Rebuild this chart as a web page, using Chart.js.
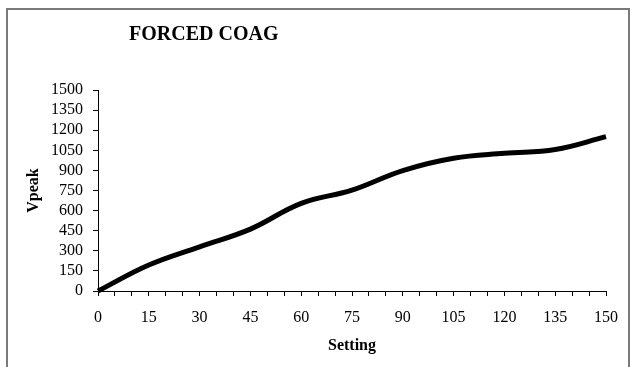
<!DOCTYPE html>
<html>
<head>
<meta charset="utf-8">
<script src="https://cdn.jsdelivr.net/npm/chart.js@4.4.1/dist/chart.umd.min.js"></script>
<style>
  html, body { margin: 0; padding: 0; background: #ffffff; }
  #wrap { position: relative; width: 632px; height: 367px; }
</style>
</head>
<body>
<div id="wrap"><canvas id="chart" width="632" height="367"></canvas></div>
<script>
// Generator setting vs. peak voltage
const chartTitle = 'FORCED COAG';
const xTitle = 'Setting';
const yTitle = 'Vpeak';
const settings = [0, 15, 30, 45, 60, 75, 90, 105, 120, 135, 150];
const vpeak = [0, 194, 330, 462, 654, 753, 899, 991, 1028, 1056, 1152];
const xTickStep = 5;
const xLabelStep = 15;
const yTickStep = 150;

const serif = '"Liberation Serif", "Times New Roman", serif';

// Outer frame (no bottom edge) and the chart heading
const framePlugin = {
  id: 'frame',
  beforeDraw(chart) {
    const ctx = chart.ctx;
    ctx.save();
    ctx.fillStyle = '#ffffff';
    ctx.fillRect(0, 0, chart.width, chart.height);
    ctx.strokeStyle = '#7a7a7a';
    ctx.lineWidth = 2;
    ctx.beginPath();
    ctx.moveTo(7, chart.height);
    ctx.lineTo(7, 9);
    ctx.lineTo(629, 9);
    ctx.lineTo(629, chart.height);
    ctx.stroke();
    ctx.restore();
  },
  afterDraw(chart) {
    const ctx = chart.ctx;
    ctx.save();
    ctx.fillStyle = '#000000';
    ctx.font = 'bold 20px ' + serif;
    ctx.textAlign = 'left';
    ctx.textBaseline = 'middle';
    ctx.fillText(chartTitle, 129, 35);
    ctx.restore();
  }
};

new Chart(document.getElementById('chart'), {
  type: 'line',
  data: {
    datasets: [{
      data: settings.map((s, i) => ({ x: s, y: vpeak[i] })),
      borderColor: '#000000',
      borderWidth: 5,
      pointRadius: 0,
      tension: 0.4,
      fill: false,
      clip: false
    }]
  },
  options: {
    responsive: false,
    animation: false,
    layout: { padding: { left: 0, right: 26, top: 90, bottom: 0 } },
    plugins: {
      legend: { display: false },
      tooltip: { enabled: false },
      title: { display: false }
    },
    scales: {
      x: {
        type: 'linear',
        min: 0,
        max: 150,
        afterFit(scale) { scale.height = 76; },
        grid: { drawOnChartArea: false, drawTicks: true, tickLength: 5, color: '#000000' },
        border: { color: '#000000', width: 1 },
        ticks: {
          stepSize: xTickStep,
          autoSkip: false,
          maxRotation: 0,
          padding: 12,
          color: '#000000',
          font: { family: serif, size: 16 },
          callback: v => (v % xLabelStep === 0 ? String(v) : '')
        },
        title: {
          display: true,
          text: xTitle,
          color: '#000000',
          font: { family: serif, size: 16, weight: 'bold' },
          padding: { top: 0, bottom: 12 }
        }
      },
      y: {
        min: 0,
        max: 1500,
        afterFit(scale) { scale.width = 98; },
        grid: { drawOnChartArea: false, drawTicks: true, tickLength: 5, color: '#000000' },
        border: { color: '#000000', width: 1 },
        ticks: {
          stepSize: yTickStep,
          autoSkip: false,
          padding: 10,
          color: '#000000',
          font: { family: serif, size: 16 },
          callback: v => String(v)
        },
        title: {
          display: true,
          text: yTitle,
          color: '#000000',
          font: { family: serif, size: 16, weight: 'bold' },
          padding: { top: 24, bottom: 0 }
        }
      }
    }
  },
  plugins: [framePlugin]
});
</script>
</body>
</html>
